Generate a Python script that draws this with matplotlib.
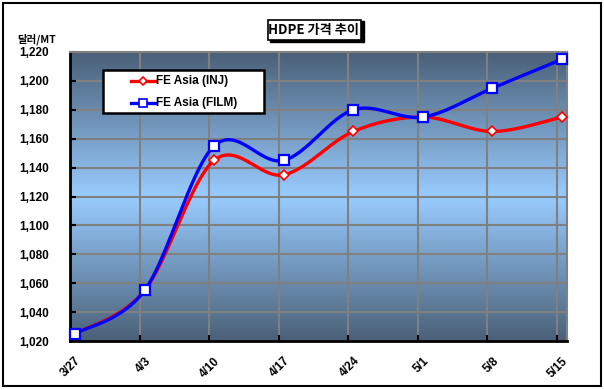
import numpy as np
import matplotlib.pyplot as plt
from matplotlib.colors import LinearSegmentedColormap
from matplotlib.patches import Rectangle

plt.rcParams['font.family'] = ['Noto Sans CJK KR', 'DejaVu Sans']

# --- datos ---
fechas = ["3/27", "4/3", "4/10", "4/17", "4/24", "5/1", "5/8", "5/15"]
inj = [1025, 1055, 1145, 1135, 1165, 1175, 1165, 1175]
film = [1025, 1055, 1155, 1145, 1180, 1175, 1195, 1215]
y_ticks = list(range(1020, 1221, 20))


def suavizar(x, y, n=30):
    # curva suavizada tipo Excel (Bezier con tangentes Catmull-Rom)
    x = np.asarray(x, float)
    y = np.asarray(y, float)
    p = np.column_stack([x, y])
    pts = []
    for i in range(len(p) - 1):
        p0 = p[i - 1] if i > 0 else p[i]
        p1, p2 = p[i], p[i + 1]
        p3 = p[i + 2] if i + 2 < len(p) else p[i + 1]
        c1 = p1 + (p2 - p0) / 6
        c2 = p2 - (p3 - p1) / 6
        t = np.linspace(0, 1, n)[:, None]
        seg = ((1 - t) ** 3) * p1 + 3 * ((1 - t) ** 2) * t * c1 + 3 * (1 - t) * t ** 2 * c2 + t ** 3 * p2
        pts.append(seg if i == 0 else seg[1:])
    pts = np.vstack(pts)
    return pts[:, 0], pts[:, 1]


fig = plt.figure(figsize=(6.04, 3.90), dpi=100)
ax = fig.add_axes([70 / 604, 49 / 390, 497 / 604, 289 / 390])

# fondo degradado
cmap = LinearSegmentedColormap.from_list("fondo", ["#4a6078", "#99ccff", "#4a6078"])
grad = np.linspace(0, 1, 256)[:, None]
ax.imshow(grad, extent=[0, 1, 0, 1], transform=ax.transAxes, aspect="auto",
          cmap=cmap, zorder=0)

x = np.arange(len(fechas))
off = 0.5 / 7
ax.set_xlim(-off, len(fechas) - 1 + off)
ax.set_ylim(1020, 1220)

fuente = ['Liberation Sans', 'DejaVu Sans']
ax.set_yticks(y_ticks)
ax.set_yticklabels([f"{v:,}" for v in y_ticks], fontweight="bold", fontsize=8.5,
                   family=fuente)
ax.set_xticks(x)
ax.set_xticklabels(fechas, rotation=45, ha="right", va="top", rotation_mode="anchor",
                   fontweight="bold", fontsize=8.5, family=fuente)
ax.set_xticks(x[1:] - off, minor=True)
ax.tick_params(axis="x", which="major", length=0, pad=10)
ax.tick_params(axis="x", which="minor", direction="in", length=4, width=1.5)
ax.tick_params(axis="y", direction="in", length=4, width=1.5, pad=15)

ax.grid(True, axis="y", color="#808080", linewidth=1.5, zorder=1)
ax.grid(True, axis="x", which="minor", color="#808080", linewidth=1.5, zorder=1)
ax.set_axisbelow(True)
for lado in ["top", "right"]:
    ax.spines[lado].set_color("#808080")
    ax.spines[lado].set_linewidth(1.5)
for lado in ["left", "bottom"]:
    ax.spines[lado].set_color("black")
    ax.spines[lado].set_linewidth(2)

xs, ys = suavizar(x, inj)
ax.plot(xs, ys, color="red", linewidth=2.4, zorder=3)
ax.plot(x, inj, linestyle="none", marker="D", markersize=5, markerfacecolor="white",
        markeredgecolor="red", markeredgewidth=1.2, zorder=4, clip_on=False)
xs, ys = suavizar(x, film)
ax.plot(xs, ys, color="blue", linewidth=2.4, zorder=5)
ax.plot(x, film, linestyle="none", marker="s", markersize=7.5, markerfacecolor="white",
        markeredgecolor="blue", markeredgewidth=1.6, zorder=6, clip_on=False)

# leyenda manual
fig.patches.append(Rectangle((103 / 604, 1 - 113 / 390), 161 / 604, 43 / 390,
                             transform=fig.transFigure, facecolor="white",
                             edgecolor="black", linewidth=1.8, zorder=10))
for yy, col, mk, ms, txt in [(81, "red", "D", 4, "FE Asia (INJ)"),
                             (103, "blue", "s", 5.5, "FE Asia (FILM)")]:
    yf = 1 - yy / 390
    fig.add_artist(plt.Line2D([131 / 604, 155 / 604], [yf, yf], color=col, linewidth=2.4,
                              transform=fig.transFigure, zorder=11))
    fig.add_artist(plt.Line2D([143 / 604], [yf], marker=mk, markersize=ms, color=col,
                              markerfacecolor="white", markeredgewidth=1.2,
                              transform=fig.transFigure, zorder=12))
    fig.text(156 / 604, yf, txt, fontsize=8.5, fontweight="bold", va="center", ha="left",
             family=fuente, zorder=12)

# título con sombra
fig.patches.append(Rectangle((270 / 604, 1 - 42 / 390), 94 / 604, 21 / 390,
                             transform=fig.transFigure, facecolor="black",
                             edgecolor="black", zorder=8))
fig.patches.append(Rectangle((268 / 604, 1 - 40 / 390), 93 / 604, 20 / 390,
                             transform=fig.transFigure, facecolor="white",
                             edgecolor="black", linewidth=1.2, zorder=9))
fig.text(314 / 604, 1 - 30 / 390, "HDPE 가격 추이", fontsize=9.5, fontweight="bold",
         ha="center", va="center", zorder=10)

fig.text(37 / 604, 1 - 39 / 390, "달러/MT", fontsize=7.5, fontweight="bold",
         ha="center", va="center")

# marco exterior
fig.patches.append(Rectangle((3 / 604, 4 / 390), 598 / 604, 383 / 390,
                             transform=fig.transFigure, facecolor="none",
                             edgecolor="black", linewidth=1.5, zorder=20))

fig.savefig("out.png", dpi=100)
